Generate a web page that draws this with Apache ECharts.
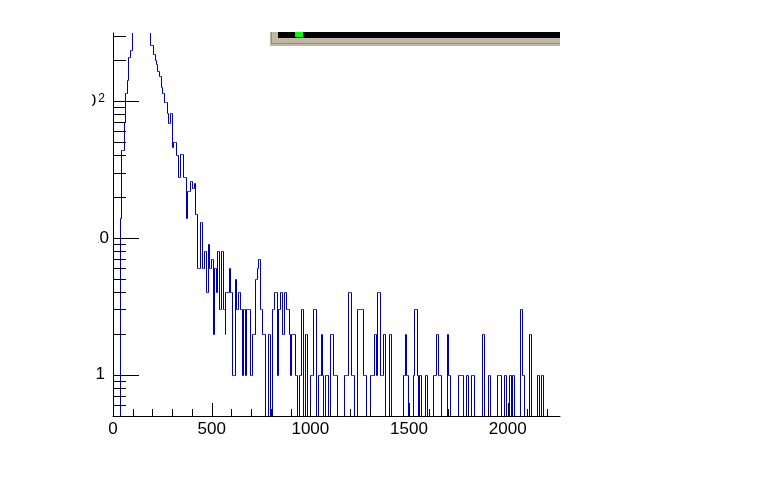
<!DOCTYPE html>
<html><head><meta charset="utf-8">
<script src="https://cdn.jsdelivr.net/npm/echarts@6/dist/echarts.min.js"></script>
<style>html,body{margin:0;padding:0;background:#fff}#c{width:768px;height:480px}</style>
</head><body><div id="c"></div>
<script>
// histogram: bin width 5, starting at 0
const binWidth = 5;
const counts = [
0,0,0,0,0,0,0,14,44,44,
44,70,115,115,142,210,210,236,236,340,
390,440,480,520,550,570,580,590,585,570,
550,520,490,460,430,400,370,335,256,256,
256,219,219,199,185,166,166,153,153,127,
115,115,99,99,99,82,69,69,81,81,
46,50,50,50,40,40,28,28,41,41,
41,28,28,28,14,22,22,22,26,26,
23,23,25,15,15,6,6,6,13,13,
6,6,8,8,4,4,9,6,6,7,
7,2,6,6,4,8,8,3,3,8,
8,3,3,2,4,4,4,4,6,4,
4,1,1,1,5,3,3,4,4,3,
3,1,3,3,1,3,3,3,3,1,
1,2,2,2,5,5,6,7,7,3,
3,2,2,2,0,0,0,2,2,0,
0,3,3,4,4,4,1,3,3,4,
4,2,2,4,4,3,3,3,2,1,
2,2,2,2,1,1,0,0,0,1,
1,3,3,0,0,2,2,0,0,0,
1,1,1,3,3,3,0,0,1,1,
1,2,1,0,0,1,1,1,0,0,
2,2,2,1,1,1,1,0,0,0,
0,0,0,0,1,1,1,1,4,4,
4,1,1,1,0,0,0,3,3,3,
3,3,3,1,1,1,0,0,0,0,
1,1,1,1,1,2,2,1,4,4,
4,1,1,1,2,2,0,0,0,0,
2,2,0,0,0,0,0,0,0,0,
0,0,0,0,1,1,2,1,1,0,
0,0,0,0,1,3,3,3,1,0,
1,1,0,0,0,0,1,1,0,0,
0,0,0,0,1,1,1,2,2,1,
1,1,0,0,0,0,0,0,2,1,
1,1,0,0,0,0,0,0,0,0,
1,1,1,1,1,0,0,0,1,1,
0,0,0,1,1,1,0,0,0,0,
0,0,0,0,2,2,0,0,0,0,
1,1,0,0,0,0,0,0,0,1,
1,1,1,0,0,0,1,1,0,0,
0,1,1,0,1,1,0,0,0,0,
0,0,3,3,1,1,1,0,0,0,
0,0,2,2,0,0,0,0,0,0,
1,1,0,0,1,1,0,0,0,0,
0,0,0,0,0,0,0,0,0,0,
0,0
];
const xMin = 0, xMax = 2265;
const yMin = 0.5, yMax = 313.6;
const xMajorTicks = [0, 500, 1000, 1500, 2000];
const xMinorTicks = [100,200,300,400,600,700,800,900,1100,1200,1300,1400,1600,1700,1800,1900,2100,2200];
const yMajorTicks = [1, 10, 100];
const yMinorTicks = [0.6,0.7,0.8,0.9,2,3,4,5,6,7,8,9,20,30,40,50,60,70,80,90,200,300];
const yLabelValues = [1, 10, 100];
const yLabelBase = ['1', '10', '10'];
const yLabelExp = ['', '', '2'];

const ZERO = 1e-3; // empty bins drop below the axis floor on the log scale
const histData = counts.map((c, i) => [
  i * binWidth, c > 0 ? c : ZERO,
  (i + 1 < counts.length && counts[i + 1] > 0) ? counts[i + 1] : ZERO
]);

const tickData = [];
xMajorTicks.forEach(v => tickData.push([v, yMin, 13, 0]));
xMinorTicks.forEach(v => tickData.push([v, yMin, 7, 0]));
yMajorTicks.forEach(v => tickData.push([xMin, v, 26, 1]));
yMinorTicks.forEach(v => tickData.push([xMin, v, 13, 1]));

const font = 'Liberation Sans';
const crisp = v => Math.round(v) + 0.5;
const chart = echarts.init(document.getElementById('c'));
chart.setOption({
  animation: false,
  grid: { left: 113, top: 33, width: 447, height: 383, containLabel: false },
  xAxis: {
    type: 'value', min: xMin, max: xMax, interval: 500,
    axisLine: { show: true, onZero: false, lineStyle: { color: '#000', width: 1 } },
    axisTick: { show: false }, splitLine: { show: false },
    axisLabel: { color: '#000', fontFamily: font, fontSize: 17, margin: 5, showMaxLabel: false,
      formatter: v => String(v) }
  },
  yAxis: {
    type: 'log', logBase: 10, min: yMin, max: yMax,
    axisLine: { show: true, onZero: false, lineStyle: { color: '#000', width: 1 } },
    axisTick: { show: false }, splitLine: { show: false }, minorTick: { show: false },
    axisLabel: {
      color: '#000', fontFamily: font, fontSize: 17, margin: 4,
      showMinLabel: false, showMaxLabel: false,
      formatter: function (v) {
        for (let i = 0; i < yLabelValues.length; i++) {
          if (Math.abs(v - yLabelValues[i]) < 1e-6 * yLabelValues[i]) {
            if (yLabelExp[i]) return '{b|' + yLabelBase[i] + '}{s|' + yLabelExp[i] + '}';
            if (yLabelBase[i].length === 1) return '{one|' + yLabelBase[i] + '}';
            return yLabelBase[i];
          }
        }
        return '';
      },
      rich: {
        one: { fontFamily: font, fontSize: 17, color: '#000', padding: [0, 4, 0, 0] },
        b: { fontFamily: font, fontSize: 17, color: '#000' },
        s: { fontFamily: font, fontSize: 12, color: '#000', verticalAlign: 'top', padding: [0, 4, 0, 2] }
      }
    }
  },
  series: [
    {
      type: 'custom', name: 'hist', data: histData, silent: true, z: 3,
      encode: { x: 0, y: 1 },
      renderItem: function (params, api) {
        const cs = params.coordSys;
        const x0 = api.value(0), c = api.value(1), cn = api.value(2);
        const pa = api.coord([x0, c]);
        const pb = api.coord([x0 + binWidth, c]);
        const pn = api.coord([x0 + binWidth, cn]);
        const lim = y => Math.max(cs.y - 5, Math.min(cs.y + cs.height + 5, isFinite(y) ? y : cs.y + cs.height + 5));
        const ya = crisp(lim(pa[1])), yn = crisp(lim(pn[1]));
        const xa = crisp(pa[0]), xb = crisp(pb[0]);
        return {
          type: 'polyline',
          shape: { points: [[xa, ya], [xb, ya], [xb, yn]] },
          style: { stroke: '#0000aa', lineWidth: 1, fill: null, lineJoin: 'miter' },
          clipPath: { type: 'rect', shape: { x: cs.x, y: cs.y, width: cs.width, height: cs.height } }
        };
      }
    },
    {
      type: 'custom', data: tickData, clip: false, silent: true, z: 5,
      encode: { x: 0, y: 1 },
      renderItem: function (params, api) {
        const p = api.coord([api.value(0), api.value(1)]);
        const len = api.value(2), dir = api.value(3);
        let shape;
        if (dir === 0) {
          const x = crisp(p[0]);
          shape = { x1: x, y1: p[1], x2: x, y2: p[1] - len };
        } else {
          const y = crisp(p[1]);
          shape = { x1: p[0], y1: y, x2: p[0] + len, y2: y };
        }
        return { type: 'line', shape: shape, style: { stroke: '#000', lineWidth: 1 } };
      }
    }
  ],
  graphic: [
    { type: 'rect', z: 100, silent: true, shape: { x: 0, y: 0, width: 92, height: 480 }, style: { fill: '#fff' } },
    { type: 'rect', z: 100, silent: true, shape: { x: 92, y: 226, width: 6.5, height: 24 }, style: { fill: '#fff' } },
    { type: 'rect', z: 100, silent: true, shape: { x: 270, y: 32, width: 290, height: 14 }, style: { fill: '#bfb7a4' } },
    { type: 'line', z: 101, silent: true, shape: { x1: 271.5, y1: 32, x2: 271.5, y2: 43.5 }, style: { stroke: '#958e7e', lineWidth: 1 } },
    { type: 'line', z: 101, silent: true, shape: { x1: 271, y1: 43.5, x2: 560, y2: 43.5 }, style: { stroke: '#958e7e', lineWidth: 1 } },
    { type: 'rect', z: 102, silent: true, shape: { x: 278, y: 32, width: 282, height: 6 }, style: { fill: '#000' } },
    { type: 'rect', z: 103, silent: true, shape: { x: 295, y: 32, width: 8, height: 5 }, style: { fill: '#00ff00' } }
  ]
});
</script>
</body></html>
